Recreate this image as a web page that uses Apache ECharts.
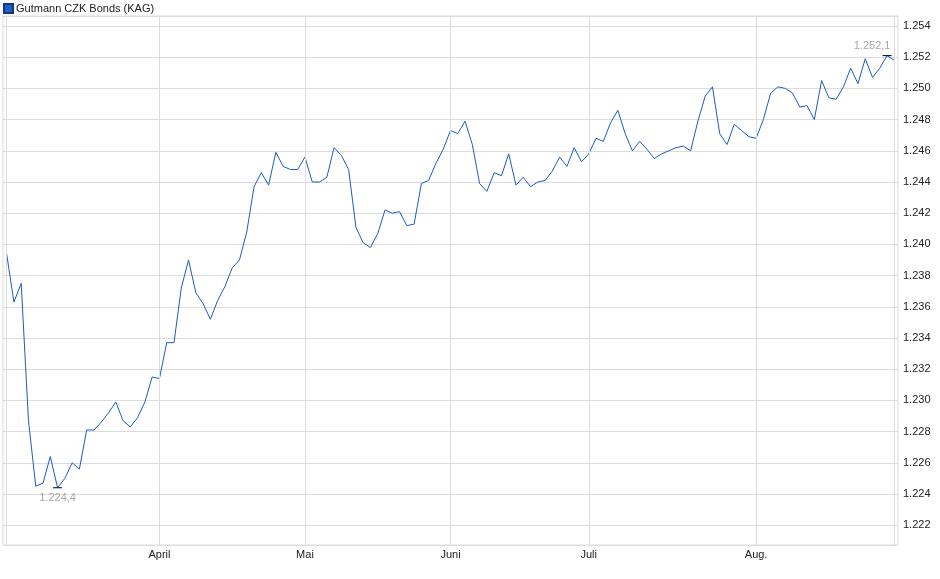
<!DOCTYPE html>
<html>
<head>
<meta charset="utf-8">
<script src="https://cdn.jsdelivr.net/npm/echarts@6/dist/echarts.min.js"></script>
<style>
  html, body { margin: 0; padding: 0; background: #fff; }
  .chart { width: 940px; height: 579px; }
</style>
</head>
<body>
<div class="chart"></div>
<script>
// Handelstage 2025 (Tag im Monat)
const marchDays = [3, 4, 5, 6, 7, 10, 11, 12, 13, 14, 17, 18, 19, 20, 21, 24, 25, 26, 27, 28, 31];
const aprilDays = [1, 2, 3, 4, 7, 8, 9, 10, 11, 14, 15, 16, 17, 22, 23, 24, 25, 28, 29, 30];
const mayDays = [2, 5, 6, 7, 8, 9, 12, 13, 14, 15, 16, 19, 20, 21, 22, 23, 26, 27, 28, 30];
const juneDays = [2, 3, 4, 5, 6, 10, 11, 12, 13, 16, 17, 18, 20, 23, 24, 25, 26, 27, 30];
const julyDays = [1, 2, 3, 4, 7, 8, 9, 10, 11, 14, 15, 16, 17, 18, 21, 22, 23, 24, 25, 28, 29, 30, 31];
const augDays = [1, 4, 5, 6, 7, 8, 11, 12, 13, 14, 18, 19, 20, 21, 22, 25, 26, 27, 28, 29];
const monthNames = ["März", "April", "Mai", "Juni", "Juli", "Aug."];

// Kurse (CZK)
const marchValues = [1239.4, 1236.3, 1237.5, 1228.7, 1224.5, 1224.7, 1226.4, 1224.4, 1225.0, 1226.0, 1225.6,
    1228.1, 1228.1, 1228.6, 1229.2, 1229.9, 1228.7, 1228.3, 1228.9, 1229.9, 1231.5];
const aprilValues = [1231.4, 1233.7, 1233.7, 1237.2, 1239.0, 1236.9, 1236.2, 1235.2, 1236.4, 1237.3,
    1238.5, 1239.0, 1240.8, 1243.7, 1244.6, 1243.8, 1245.9, 1245.0, 1244.8, 1244.8];
const mayValues = [1245.6, 1244.0, 1244.0, 1244.3, 1246.2, 1245.7, 1244.8, 1241.1, 1240.1, 1239.8,
    1240.7, 1242.2, 1242.0, 1242.1, 1241.2, 1241.3, 1243.9, 1244.1, 1245.2, 1246.1];
const juneValues = [1247.3, 1247.1, 1247.9, 1246.4, 1243.9, 1243.4, 1244.6, 1244.4, 1245.8, 1243.8,
    1244.3, 1243.7, 1244.0, 1244.1, 1244.7, 1245.6, 1245.0, 1246.2, 1245.3];
const julyValues = [1245.8, 1246.8, 1246.6, 1247.8, 1248.6, 1247.1, 1246.0, 1246.6, 1246.1, 1245.5,
    1245.8, 1246.0, 1246.2, 1246.3, 1246.0, 1247.9, 1249.5, 1250.1, 1247.1, 1246.4, 1247.7, 1247.3, 1246.9];
const augValues = [1246.8, 1248.0, 1249.7, 1250.1, 1250.0, 1249.7, 1248.8, 1248.9, 1248.0, 1250.5,
    1249.4, 1249.3, 1250.1, 1251.3, 1250.3, 1251.9, 1250.7, 1251.3, 1252.1, 1251.8];

const seriesName = "Gutmann CZK Bonds (KAG)";
const yMin = 1220.73;
const yMax = 1254.64;

// Kategorien + Monatsanfänge aufbauen
const monthDays = [marchDays, aprilDays, mayDays, juneDays, julyDays, augDays];
const monthValues = [marchValues, aprilValues, mayValues, juneValues, julyValues, augValues];
var categories = [];
var values = [];
var monthStart = {};
monthDays.forEach(function (days, m) {
    monthStart[categories.length] = monthNames[m];
    days.forEach(function (d, k) {
        categories.push("2025-" + String(m + 3).padStart(2, "0") + "-" + String(d).padStart(2, "0"));
        values.push(monthValues[m][k]);
    });
});
// erster Monat ist angeschnitten -> kein Label
delete monthStart[0];

// deutsches Zahlenformat
function fmtDE(v, dec) {
    var parts = v.toFixed(dec).split(".");
    var intPart = parts[0].replace(/\B(?=(\d{3})+(?!\d))/g, ".");
    return parts.length > 1 ? intPart + "," + parts[1] : intPart;
}

var vLines = [{ xAxis: 0 }, { xAxis: categories.length - 1 }];
Object.keys(monthStart).forEach(function (i) { vLines.push({ xAxis: Number(i) }); });

var gridColor = "#dcdcdc";
var font = "'Liberation Sans', Arial, sans-serif";

var myChart = echarts.init(document.querySelector(".chart"));
var option = {
    animation: false,
    textStyle: { fontFamily: font },
    legend: {
        left: 3,
        top: 3,
        padding: 0,
        icon: "rect",
        itemWidth: 9,
        itemHeight: 9,
        itemGap: 10,
        textStyle: { fontSize: 11, color: "#222", fontFamily: font, padding: [0, 0, 0, -2] },
        data: [seriesName]
    },
    grid: {
        left: 3,
        right: 42,
        top: 16,
        bottom: 34,
        show: true,
        borderColor: gridColor,
        borderWidth: 1
    },
    xAxis: {
        type: "category",
        data: categories,
        boundaryGap: true,
        axisLine: { show: false },
        axisTick: { show: false },
        splitLine: { show: false },
        axisLabel: {
            margin: 4,
            fontSize: 11,
            color: "#222",
            fontFamily: font,
            interval: function (index) { return monthStart[index] !== undefined; },
            formatter: function (value, index) { return monthStart[index] || ""; }
        }
    },
    yAxis: {
        type: "value",
        position: "right",
        min: yMin,
        max: yMax,
        minInterval: 2,
        maxInterval: 2,
        axisLine: { show: false },
        axisTick: { show: false },
        splitLine: { lineStyle: { color: gridColor, width: 1 } },
        axisLabel: {
            margin: 5,
            fontSize: 11,
            color: "#222",
            fontFamily: font,
            showMinLabel: false,
            showMaxLabel: false,
            formatter: function (v) { return fmtDE(v, 0); }
        }
    },
    series: [{
        name: seriesName,
        type: "line",
        data: values,
        showSymbol: false,
        symbol: "none",
        z: 3,
        lineStyle: { color: "#1a5cc0", width: 1 },
        itemStyle: { color: "#1f5fc8", borderColor: "#123a7a", borderWidth: 1 },
        emphasis: { disabled: true },
        markLine: {
            silent: true,
            symbol: ["none", "none"],
            label: { show: false },
            lineStyle: { color: gridColor, width: 1, type: "solid" },
            data: vLines
        },
        markPoint: {
            silent: true,
            symbol: "rect",
            symbolSize: [9, 1],
            itemStyle: { color: "#000", borderWidth: 0 },
            label: {
                color: "#a6a6a6",
                fontSize: 11,
                fontFamily: font,
                formatter: function (p) { return fmtDE(p.value, 1); }
            },
            data: [
                { type: "min", label: { position: "bottom", distance: 4 } },
                { type: "max", label: { position: "top", distance: 4, offset: [-15, 0] } }
            ]
        }
    }]
};

myChart.setOption(option);
</script>
</body>
</html>
